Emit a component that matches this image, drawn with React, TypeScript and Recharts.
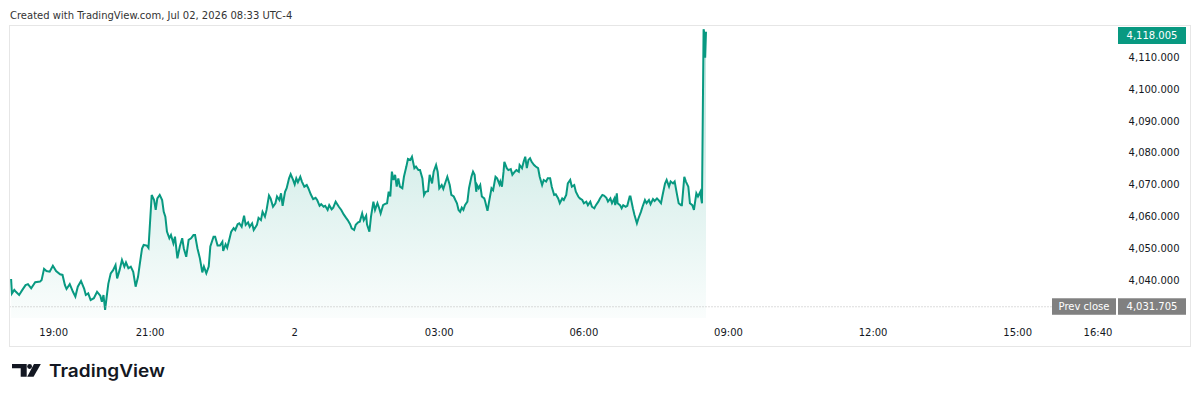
import React from 'react';
import { AreaChart, Area, XAxis, YAxis, ReferenceLine, ReferenceDot } from 'recharts';

// minutes since 18:00 (session open)
const minutes = [
  7, 8, 11, 13, 17, 21, 25, 28, 32, 37, 43, 45, 48, 51, 55, 59, 63, 68, 71, 74,
  76, 80, 84, 87, 90, 94, 98, 100, 103, 106, 110, 114, 118, 120, 122, 124, 126, 128, 131, 134,
  137, 139, 142, 145, 148, 150, 153, 156, 159, 162, 165, 167, 170, 172, 176, 178, 180, 182, 185, 187,
  189, 192, 195, 197, 199, 201, 204, 206, 209, 211, 214, 217, 220, 222, 225, 228, 231, 234, 236, 239,
  242, 245, 247, 250, 253, 255, 259, 261, 264, 267, 270, 271, 274, 276, 279, 281, 284, 286, 289, 291,
  294, 297, 299, 302, 304, 307, 309, 313, 315, 318, 320, 323, 325, 328, 330, 333, 336, 338, 341, 343,
  345, 348, 350, 353, 355, 358, 360, 362, 364, 367, 369, 372, 375, 377, 380, 383, 386, 388, 391, 393,
  396, 398, 401, 403, 406, 408, 411, 415, 418, 421, 424, 426, 429, 431, 434, 436, 439, 441, 444, 446,
  449, 450, 453, 455, 458, 460, 463, 465, 467, 470, 472, 475, 477, 479, 481, 483, 485, 487, 489, 491,
  494, 496, 499, 501, 504, 506, 509, 511, 514, 516, 519, 521, 523, 526, 528, 531, 533, 536, 538, 540,
  543, 545, 548, 550, 553, 555, 558, 560, 562, 564, 566, 568, 570, 572, 575, 577, 580, 582, 584, 586,
  587, 589, 591, 593, 596, 597, 600, 602, 605, 607, 610, 612, 615, 616, 618, 620, 621, 624, 626, 629,
  631, 634, 636, 639, 640, 643, 645, 647, 649, 651, 653, 655, 658, 660, 663, 665, 668, 670, 673, 675,
  678, 680, 683, 685, 688, 690, 693, 695, 698, 700, 703, 705, 708, 710, 713, 715, 718, 720, 723, 725,
  728, 730, 733, 735, 738, 740, 743, 745, 748, 750, 753, 755, 758, 759, 761, 762, 765, 767, 769, 772,
  774, 777, 778, 781, 783, 786, 788, 791, 793, 796, 798, 801, 803, 806, 808, 811, 813, 816, 818, 821,
  823, 826, 828, 831, 833, 836, 838, 841, 842, 845, 847, 850, 852, 855, 857, 860, 862, 865, 866, 867,
  869, 870, 871, 872,
];

const prices = [
  4040.4, 4035.9, 4037, 4036.4, 4035.4, 4037, 4038.5, 4038.8, 4037.5, 4039.4, 4039.6, 4040.1, 4043.6, 4042.9, 4042.7, 4044.6, 4042.9, 4041.9, 4041.7, 4038.5,
  4037.3, 4038.8, 4036.4, 4034.9, 4038, 4039.8, 4037.3, 4035.4, 4035.9, 4033.8, 4034.4, 4036.4, 4035.2, 4033.3, 4035.4, 4030.7, 4034.9, 4038.9, 4042.2, 4043.2,
  4044.8, 4040.6, 4043.2, 4046.4, 4044.3, 4045.6, 4043.8, 4044.3, 4042.7, 4038, 4041.1, 4044.8, 4050, 4051.1, 4050.9, 4050.2, 4058.4, 4066.8, 4065.2, 4062.1,
  4065.7, 4066.8, 4065.2, 4061.5, 4060, 4055.3, 4053.2, 4054.2, 4051.6, 4053.7, 4046.9, 4050.6, 4053.2, 4050, 4047.4, 4052.7, 4053.2, 4054.2, 4054.2, 4050,
  4046.9, 4042.5, 4044.3, 4042.2, 4044.3, 4050.6, 4053.7, 4053.7, 4050.9, 4050.9, 4052.1, 4049.2, 4051.3, 4050.2, 4053.2, 4055.3, 4056.4, 4055.8, 4057.6, 4057.9,
  4056.8, 4060.3, 4057.4, 4058.2, 4056.8, 4057.9, 4055.8, 4057.4, 4059.6, 4058.9, 4061.5, 4060, 4062.1, 4066.6, 4065.7, 4063.1, 4064.2, 4066.3, 4065.2, 4067.3,
  4063.4, 4067.8, 4068.9, 4072, 4073.3, 4071.5, 4070.1, 4072, 4070.8, 4072.5, 4071, 4069.4, 4069.9, 4068.9, 4067, 4065.5, 4065.9, 4065.2, 4063.4, 4063.9,
  4063.1, 4063.4, 4062.1, 4063.6, 4062.3, 4062.8, 4064.7, 4063.1, 4062.1, 4060.7, 4059.6, 4058.9, 4057.6, 4056.3, 4055.8, 4057.4, 4058.2, 4058.4, 4061, 4058.9,
  4060.3, 4057.6, 4055.3, 4060, 4064.7, 4062.1, 4064.2, 4062.8, 4061, 4063.6, 4063.9, 4064.2, 4067.8, 4066.3, 4074.1, 4071.5, 4073.1, 4069.4, 4072, 4069.4,
  4068.9, 4072.5, 4075.7, 4078.1, 4077.8, 4078.8, 4075.2, 4075.7, 4074.6, 4074.6, 4072, 4066.8, 4067.8, 4068, 4073.1, 4070.4, 4074.1, 4076.2, 4074.1, 4068.9,
  4069.9, 4068.7, 4071, 4072.5, 4069.9, 4066.8, 4066.3, 4065.2, 4064.2, 4062.1, 4061.5, 4062.8, 4062.1, 4063.6, 4064.7, 4068.9, 4072.5, 4074.1, 4073.1, 4067.8,
  4069.9, 4068.9, 4069.9, 4066.3, 4065.7, 4064.9, 4061.8, 4064.7, 4068.9, 4068.3, 4072.5, 4072, 4070.1, 4071, 4069.4, 4074.1, 4077.2, 4075.2, 4074.6, 4074.9,
  4073.1, 4074.1, 4074.6, 4074.1, 4076.2, 4075.2, 4077.2, 4078.8, 4075.2, 4077.8, 4078.3, 4077.2, 4076.2, 4075.7, 4075.2, 4072.5, 4069.9, 4071.5, 4071, 4072,
  4072, 4069.4, 4066.8, 4067, 4065.7, 4064.2, 4065.7, 4065.2, 4066.8, 4070.4, 4071.5, 4069.4, 4069.9, 4067.8, 4066.3, 4065.7, 4065.2, 4064.2, 4064.7, 4063.6,
  4064.7, 4063.1, 4062.6, 4063.6, 4064.7, 4065.7, 4066.8, 4066.6, 4065.9, 4064.7, 4065.7, 4064.2, 4065.7, 4063.6, 4067.3, 4064.2, 4063.6, 4062.6, 4063.6, 4063.1,
  4063.4, 4066.3, 4066.3, 4062.6, 4060.5, 4057.9, 4059.5, 4061.5, 4063.1, 4065.2, 4064.2, 4065.2, 4063.9, 4065.5, 4064.9, 4065.7, 4065.2, 4064.2, 4066.8, 4070.4,
  4071.5, 4069.4, 4071, 4070.4, 4071, 4066.8, 4064.2, 4063.6, 4063.6, 4072.5, 4071, 4069.4, 4064.2, 4063.6, 4062.1, 4067.3, 4066.3, 4067.8, 4065.7, 4064.2,
  4118.8, 4117.6, 4109.9, 4118.005,
];

// 19:00, 21:00, day 2, 03:00, 06:00, 09:00, 12:00, 15:00, 16:40
const xTicks = [60, 180, 360, 540, 720, 900, 1080, 1260, 1360];
const yTicks = [4040, 4050, 4060, 4070, 4080, 4090, 4100, 4110];
const lastPrice = 4118.005;
const prevClose = 4031.705;

const data = minutes.map((m, i) => ({ t: m, price: prices[i] }));

const GREEN = '#089981';
const TEXT = '#131722';
const FONT = '"DejaVu Sans", Verdana, sans-serif';

function fmtTime(m: number) {
  if (m === 360) return '2';
  const tot = (18 * 60 + m) % 1440;
  const h = Math.floor(tot / 60);
  const mm = tot % 60;
  return `${String(h).padStart(2, '0')}:${String(mm).padStart(2, '0')}`;
}

function fmtPrice(v: number) {
  return v.toLocaleString('en-US', { minimumFractionDigits: 3, maximumFractionDigits: 3 });
}

const XTick = (props: any) => (
  <text x={props.x} y={336} textAnchor="middle" fontSize={10} fontFamily={FONT} fill={TEXT}>
    {fmtTime(props.payload.value)}
  </text>
);

const YTick = (props: any) => (
  <text x={1179.5} y={props.y + 3.6} textAnchor="end" fontSize={10} fontFamily={FONT} fill={TEXT}>
    {fmtPrice(props.payload.value)}
  </text>
);

const LastLabel = (props: any) => {
  const top = Math.max(props.cy - 8.5, 27);
  return (
    <g>
      <rect x={1118} y={top} width={68} height={17} fill={GREEN} />
      <text x={1152} y={top + 12.2} textAnchor="middle" fontSize={10} fontFamily={FONT} fill="#fff">
        {fmtPrice(lastPrice)}
      </text>
    </g>
  );
};

const PrevLabel = (props: any) => {
  const top = props.cy - 8.5;
  return (
    <g>
      <rect x={1052} y={top} width={64} height={16.5} fill="#808080" />
      <text x={1084} y={top + 12} textAnchor="middle" fontSize={10} fontFamily={FONT} fill="#fff">
        Prev close
      </text>
      <rect x={1118} y={top} width={68} height={16.5} fill="#808080" />
      <text x={1152} y={top + 12} textAnchor="middle" fontSize={10} fontFamily={FONT} fill="#fff">
        {fmtPrice(prevClose)}
      </text>
    </g>
  );
};

export default function App() {
  return (
    <div style={{ position: 'absolute', left: 0, top: 0, width: 1200, height: 401, background: '#fff' }}>
      <AreaChart width={1200} height={401} data={data} margin={{ top: 26, right: 10, bottom: 55, left: 9.5 }}>
        <defs>
          <linearGradient id="areaFill" x1="0" y1="0" x2="0" y2="1">
            <stop offset="0%" stopColor={GREEN} stopOpacity={0.28} />
            <stop offset="100%" stopColor={GREEN} stopOpacity={0.02} />
          </linearGradient>
        </defs>
        <XAxis
          dataKey="t"
          type="number"
          domain={[5, 1474.5]}
          allowDataOverflow
          ticks={xTicks}
          interval={0}
          axisLine={false}
          tickLine={false}
          height={28}
          tick={XTick}
        />
        <YAxis
          type="number"
          domain={[4028.18, 4119.82]}
          allowDataOverflow
          orientation="right"
          mirror
          ticks={yTicks}
          interval={0}
          axisLine={false}
          tickLine={false}
          width={60}
          tick={YTick}
        />
        <ReferenceLine
          segment={[{ x: 5, y: prevClose }, { x: 1302, y: prevClose }]}
          stroke="#b8b8b8"
          strokeDasharray="1 2"
          ifOverflow="extendDomain"
        />
        <Area
          type="linear"
          dataKey="price"
          stroke={GREEN}
          strokeWidth={2}
          fill="url(#areaFill)"
          fillOpacity={1}
          dot={false}
          activeDot={false}
          isAnimationActive={false}
        />
        <ReferenceDot x={872} y={lastPrice} r={0} shape={LastLabel} />
        <ReferenceDot x={872} y={prevClose} r={0} shape={PrevLabel} />
      </AreaChart>
      <svg width={1200} height={401} style={{ position: 'absolute', left: 0, top: 0, pointerEvents: 'none' }}>
        <text x={10} y={19} fontSize={10} fontFamily={FONT} fill="#333">
          Created with TradingView.com, Jul 02, 2026 08:33 UTC-4
        </text>
        <rect x={9.5} y={25.5} width={1181} height={321} fill="none" stroke="#e6e6e6" />
        <g fill={TEXT}>
          <path d="M12 364 H26.7 V376.7 H20.7 V368.3 H12 Z" />
          <circle cx={29.6} cy={366.5} r={2.4} />
          <path d="M34 364 H40.8 L33.6 376.7 H27.2 Z" />
          <text x={49} y={376.7} fontSize={17} fontWeight={600} fontFamily="Inter, sans-serif" textLength={116} lengthAdjust="spacingAndGlyphs">
            TradingView
          </text>
        </g>
      </svg>
    </div>
  );
}
